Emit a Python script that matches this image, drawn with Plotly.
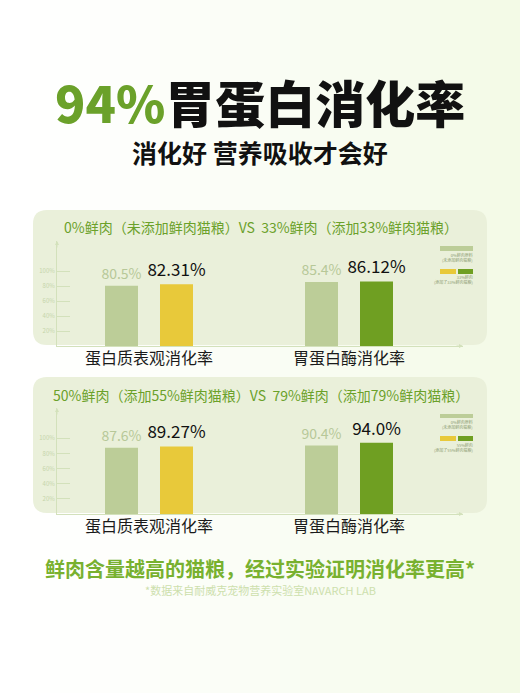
import plotly.graph_objects as go

# ---------------- data ----------------
categories = ["蛋白质表观消化率", "胃蛋白酶消化率"]
panel1_title = "0%鲜肉（未添加鲜肉猫粮）VS  33%鲜肉（添加33%鲜肉猫粮）"
panel1_base = [80.5, 85.4]
panel1_fresh = [82.31, 86.12]
panel1_legend = [["0%鲜肉原料", "(未添加鲜肉猫粮)"], ["33%鲜肉", "(添加了33%鲜肉猫粮)"]]

panel2_title = "50%鲜肉（添加55%鲜肉猫粮）VS  79%鲜肉（添加79%鲜肉猫粮）"
panel2_base = [87.6, 90.4]
panel2_fresh = [89.27, 94.0]
panel2_legend = [["0%鲜肉原料", "(未添加鲜肉猫粮)"], ["55%鲜肉", "(添加了55%鲜肉猫粮)"]]

y_ticks = [20, 40, 60, 80, 100]
y_tick_labels = ["20%", "40%", "60%", "80%", "100%"]

title_green = "94%"
title_black = "胃蛋白消化率"
subtitle = "消化好 营养吸收才会好"
footer = "鲜肉含量越高的猫粮，经过实验证明消化率更高*"
source = "*数据来自耐威克宠物营养实验室NAVARCH LAB"

# ---------------- styles ----------------
W, H = 520, 693
FONT = "Noto Sans CJK SC"
GREEN = "#6ba12a"
BASE_C = "#bccd98"
YELLOW = "#e8c93a"
DGREEN = "#6f9f22"
PANEL_C = "#eaf0da"
AXIS_C = "#d3e1bb"
TICK_TXT = "#c6d5aa"


def px_x(p):
    return p / W


def px_y(p):
    return 1 - p / H


def rounded_rect(x0, y0, x1, y1, r):
    # pixel coords (top-left origin) -> paper path
    def P(x, y):
        return f"{px_x(x):.5f},{px_y(y):.5f}"
    return (f"M {P(x0 + r, y0)} L {P(x1 - r, y0)} Q {P(x1, y0)} {P(x1, y0 + r)} "
            f"L {P(x1, y1 - r)} Q {P(x1, y1)} {P(x1 - r, y1)} "
            f"L {P(x0 + r, y1)} Q {P(x0, y1)} {P(x0, y1 - r)} "
            f"L {P(x0, y0 + r)} Q {P(x0, y0)} {P(x0 + r, y0)} Z")


fig = go.Figure()

# background gradient strips (decoration)
shapes = []
n = 52
c0 = (255, 255, 255)
c1 = (243, 250, 230)
for i in range(n):
    t = (i / (n - 1)) ** 1.3
    col = tuple(int(round(c0[k] + (c1[k] - c0[k]) * t)) for k in range(3))
    shapes.append(dict(type="rect", xref="paper", yref="paper",
                       x0=i / n, x1=(i + 1) / n + 0.002, y0=0, y1=1,
                       fillcolor="rgb(%d,%d,%d)" % col, line_width=0, layer="below"))

panels = [
    dict(title=panel1_title, base=panel1_base, fresh=panel1_fresh, legend=panel1_legend,
         rect=(33, 210, 487, 345), base_y=346, top_y=241, title_y=227, cat_y=357,
         leg=(246, 251, 257, 269, 274, 280), xa="x", ya="y"),
    dict(title=panel2_title, base=panel2_base, fresh=panel2_fresh, legend=panel2_legend,
         rect=(33, 377, 487, 513), base_y=514, top_y=408, title_y=395, cat_y=525,
         leg=(414, 418, 424, 436, 441, 447), xa="x2", ya="y2"),
]

annotations = []
x_left, x_right = 57, 463
xr = [-(149 - x_left) / 200, (x_right - 149) / 200]
YMAX = 140

layout_axes = {}
for i, p in enumerate(panels):
    x0, y0, x1, y1 = p["rect"]
    shapes.append(dict(type="path", xref="paper", yref="paper",
                       path=rounded_rect(x0, y0, x1, y1, 14),
                       fillcolor=PANEL_C, line_width=0, layer="below"))
    xa, ya = p["xa"], p["ya"]
    xkey = "xaxis" if xa == "x" else "xaxis2"
    ykey = "yaxis" if ya == "y" else "yaxis2"
    fig.add_trace(go.Bar(x=[0, 1], y=p["base"], xaxis=xa, yaxis=ya,
                         marker_color=BASE_C, marker_line_width=0,
                         text=[f"{v}%" for v in p["base"]], textposition="outside",
                         constraintext="none",
                         textfont=dict(family=FONT, size=14, color="#b7c898"),
                         cliponaxis=False, showlegend=False, offsetgroup="a"))
    fig.add_trace(go.Bar(x=[0, 1], y=p["fresh"], xaxis=xa, yaxis=ya,
                         marker_color=[YELLOW, DGREEN], marker_line_width=0,
                         text=[f"{v}%" for v in p["fresh"]], textposition="outside",
                         constraintext="none",
                         textfont=dict(family=FONT, size=17, color="#111111"),
                         cliponaxis=False, showlegend=False, offsetgroup="b"))
    layout_axes[xkey] = dict(domain=[px_x(x_left), px_x(x_right)], range=xr,
                             anchor=ya, showgrid=False, zeroline=False,
                             showline=True, linecolor=AXIS_C, linewidth=1,
                             showticklabels=False, ticks="", fixedrange=True)
    layout_axes[ykey] = dict(domain=[px_y(p["base_y"]), px_y(p["top_y"])],
                             range=[0, YMAX], anchor=xa, showgrid=False,
                             zeroline=False, showline=True, linecolor=AXIS_C,
                             linewidth=1, tickvals=y_ticks, ticktext=y_tick_labels,
                             ticks="inside", ticklen=13, tickcolor=AXIS_C,
                             tickfont=dict(family=FONT, size=6, color=TICK_TXT),
                             fixedrange=True)
    # category labels
    for ci, cat in enumerate(categories):
        annotations.append(dict(x=ci, y=px_y(p["cat_y"]), xref=xa, yref="paper",
                                text=cat, showarrow=False, xanchor="center",
                                yanchor="middle",
                                font=dict(family=FONT, size=16, color="#1a1a1a")))
    # arrowheads on axes
    annotations.append(dict(x=xr[1], y=0, xref=xa, yref=ya, ax=-8, ay=0,
                            text="", showarrow=True, arrowhead=2, arrowsize=0.8,
                            arrowwidth=1, arrowcolor=AXIS_C))
    annotations.append(dict(x=xr[0], y=YMAX, xref=xa, yref=ya, ax=0, ay=8,
                            text="", showarrow=True, arrowhead=2, arrowsize=0.8,
                            arrowwidth=1, arrowcolor=AXIS_C))
    # panel title
    annotations.append(dict(x=px_x(261), y=px_y(p["title_y"]), xref="paper", yref="paper",
                            text=p["title"], showarrow=False, xanchor="center",
                            yanchor="middle",
                            font=dict(family=FONT, size=14, color=GREEN)))
    # legend
    a, b, t1, c, d, t2 = p["leg"]
    shapes.append(dict(type="rect", xref="paper", yref="paper",
                       x0=px_x(440), x1=px_x(473), y0=px_y(b), y1=px_y(a),
                       fillcolor=BASE_C, line_width=0))
    shapes.append(dict(type="rect", xref="paper", yref="paper",
                       x0=px_x(440), x1=px_x(456), y0=px_y(d), y1=px_y(c),
                       fillcolor=YELLOW, line_width=0))
    shapes.append(dict(type="rect", xref="paper", yref="paper",
                       x0=px_x(458), x1=px_x(473), y0=px_y(d), y1=px_y(c),
                       fillcolor=DGREEN, line_width=0))
    for lines, yy in [(p["legend"][0], t1), (p["legend"][1], t2)]:
        annotations.append(dict(x=px_x(474), y=px_y(yy), xref="paper", yref="paper",
                                text="<br>".join(lines), showarrow=False,
                                xanchor="right", yanchor="middle", align="right",
                                borderpad=0,
                                font=dict(family=FONT, size=4, color="#8a9a70")))

# headline
annotations.append(dict(x=0.5, y=px_y(101), xref="paper", yref="paper",
                        text=f"<span style='color:{GREEN}'>{title_green}</span>{title_black}",
                        showarrow=False, xanchor="center", yanchor="middle",
                        font=dict(family=FONT, size=50, color="#111111", weight=900)))
annotations.append(dict(x=0.5, y=px_y(152), xref="paper", yref="paper",
                        text=subtitle, showarrow=False, xanchor="center", yanchor="middle",
                        font=dict(family=FONT, size=25, color="#111111", weight=700)))
annotations.append(dict(x=0.5, y=px_y(568), xref="paper", yref="paper",
                        text=footer, showarrow=False, xanchor="center", yanchor="middle",
                        font=dict(family=FONT, size=20, color="#78b12f", weight=700)))
annotations.append(dict(x=0.5, y=px_y(590), xref="paper", yref="paper",
                        text=source, showarrow=False, xanchor="center", yanchor="middle",
                        font=dict(family=FONT, size=11, color="#cde0ad")))

fig.update_layout(
    width=W, height=H, margin=dict(l=0, r=0, t=0, b=0),
    paper_bgcolor="white", plot_bgcolor="rgba(0,0,0,0)",
    barmode="group", bargap=0.45, bargroupgap=0.4,
    shapes=shapes, annotations=annotations, showlegend=False,
    font=dict(family=FONT),
    **layout_axes,
)

fig.write_html("out.html", config={"displayModeBar": False},
               post_script="document.body.style.margin='0';document.body.style.overflow='hidden';")
